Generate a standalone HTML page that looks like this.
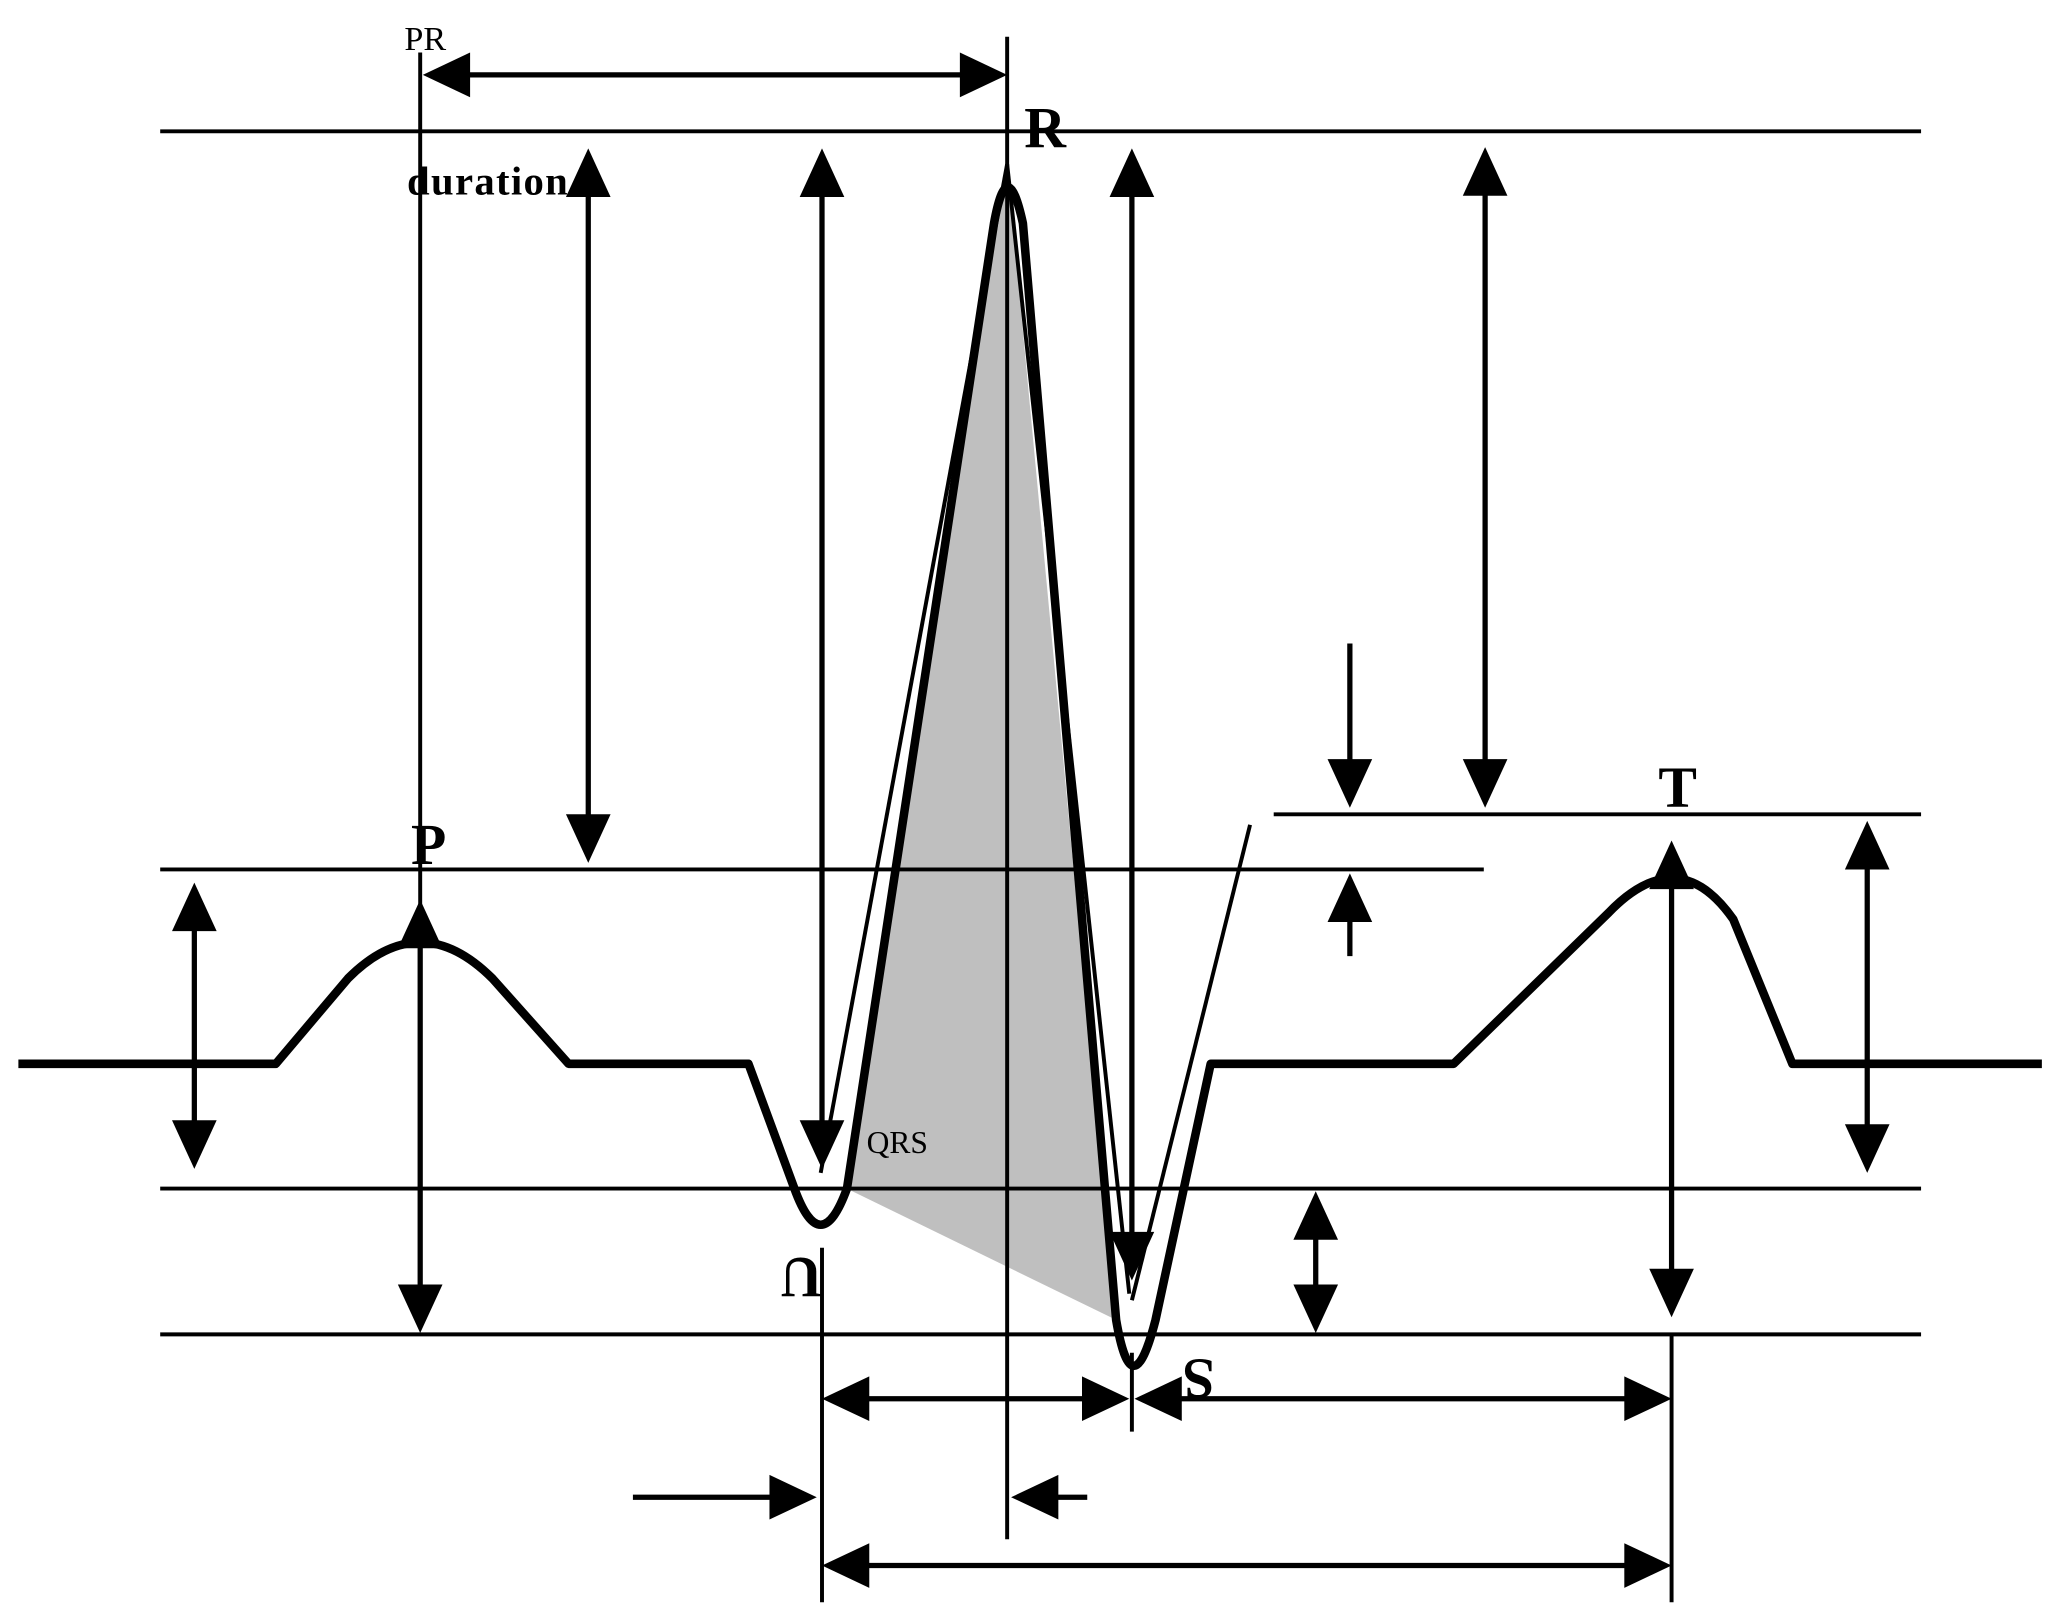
<!DOCTYPE html>
<html><head><style>html,body{margin:0;padding:0;background:#fff}svg{display:block}</style></head>
<body>
<svg width="2055" height="1622" viewBox="0 0 1565 1235" preserveAspectRatio="none" xmlns="http://www.w3.org/2000/svg">
<rect width="1565" height="1235" fill="#fff"/>
<polygon points="645,905 757,170 767,125 850,1005" fill="#bfbfbf"/>
<g stroke="#000" stroke-width="3" fill="none">
<line x1="122" y1="100" x2="1463" y2="100"/>
<line x1="122" y1="662" x2="1130" y2="662"/>
<line x1="970" y1="620" x2="1463" y2="620"/>
<line x1="122" y1="905" x2="1463" y2="905"/>
<line x1="122" y1="1016" x2="1463" y2="1016"/>
<line x1="320" y1="40" x2="320" y2="700"/>
<line x1="767" y1="28" x2="767" y2="1172"/>
<line x1="626" y1="950" x2="626" y2="1220"/>
<line x1="862" y1="1030" x2="862" y2="1090"/>
<line x1="1273" y1="1016" x2="1273" y2="1220"/>
<line x1="625" y1="893" x2="767" y2="125"/>
<line x1="767" y1="125" x2="860" y2="985"/>
<line x1="862" y1="990" x2="952" y2="628"/>
</g>
<path d="M14,810 L210,810 L265,745 Q320,690 375,745 L433,810 L570,810 L605,905 Q625,960 645,905 L757,170 Q767,115 779,170 L850,1005 Q862,1075 880,1005 L922,810 L1107,810 L1225,695 Q1278,640 1320,700 L1365,810 L1555,810" stroke="#000" stroke-width="6.5" fill="none" stroke-linejoin="round"/>
<g stroke="#000" stroke-width="4">
<line x1="330" y1="57" x2="757" y2="57"/>
<line x1="448" y1="125" x2="448" y2="645"/>
<line x1="626" y1="125" x2="626" y2="880"/>
<line x1="862" y1="125" x2="862" y2="965"/>
<line x1="1131" y1="125" x2="1131" y2="605"/>
<line x1="148" y1="685" x2="148" y2="880"/>
<line x1="320" y1="700" x2="320" y2="1005"/>
<line x1="1002" y1="920" x2="1002" y2="1005"/>
<line x1="1273" y1="655" x2="1273" y2="990"/>
<line x1="1422" y1="638" x2="1422" y2="880"/>
<line x1="1028" y1="490" x2="1028" y2="605"/>
<line x1="1028" y1="680" x2="1028" y2="728"/>
<line x1="636" y1="1065" x2="852" y2="1065"/>
<line x1="872" y1="1065" x2="1263" y2="1065"/>
<line x1="636" y1="1192" x2="1263" y2="1192"/>
<line x1="482" y1="1140" x2="612" y2="1140"/>
<line x1="780" y1="1140" x2="828" y2="1140"/>
</g>
<g fill="#000">
<polygon points="322,57 358,40 358,74"/>
<polygon points="767,57 731,40 731,74"/>
<polygon points="448,113 431,150 465,150"/><polygon points="448,657 431,620 465,620"/>
<polygon points="626,113 609,150 643,150"/><polygon points="626,890 609,853 643,853"/>
<polygon points="862,113 845,150 879,150"/><polygon points="862,975 845,938 879,938"/>
<polygon points="1131,112 1114,149 1148,149"/><polygon points="1131,615 1114,578 1148,578"/>
<polygon points="148,672 131,709 165,709"/><polygon points="148,890 131,853 165,853"/>
<polygon points="320,685 303,722 337,722"/><polygon points="320,1015 303,978 337,978"/>
<polygon points="1002,907 985,944 1019,944"/><polygon points="1002,1015 985,978 1019,978"/>
<polygon points="1273,640 1256,677 1290,677"/><polygon points="1273,1003 1256,966 1290,966"/>
<polygon points="1422,625 1405,662 1439,662"/><polygon points="1422,893 1405,856 1439,856"/>
<polygon points="1028,615 1011,578 1045,578"/>
<polygon points="1028,665 1011,702 1045,702"/>
<polygon points="626,1065 662,1048 662,1082"/><polygon points="860,1065 824,1048 824,1082"/>
<polygon points="864,1065 900,1048 900,1082"/><polygon points="1273,1065 1237,1048 1237,1082"/>
<polygon points="626,1192 662,1175 662,1209"/><polygon points="1273,1192 1237,1175 1237,1209"/>
<polygon points="622,1140 586,1123 586,1157"/>
<polygon points="770,1140 806,1123 806,1157"/>
</g>
<g font-family="Liberation Serif, serif" fill="#000">
<text x="308" y="38" font-size="26">PR</text>
<text x="310" y="148" font-size="31" font-weight="bold" letter-spacing="1">duration</text>
<text x="780" y="112" font-size="44" font-weight="bold">R</text>
<text x="313" y="658" font-size="44" font-weight="bold">P</text>
<text x="1263" y="614" font-size="44" font-weight="bold">T</text>
<text x="660" y="878" font-size="24">QRS</text>
<text transform="translate(598,928) rotate(180)" x="-28" y="-30" font-size="44" font-weight="bold">U</text>
<text transform="translate(905,1005) rotate(180)" x="-20" y="-30" font-size="44" font-weight="bold">S</text>
</g>
</svg>
</body></html>
